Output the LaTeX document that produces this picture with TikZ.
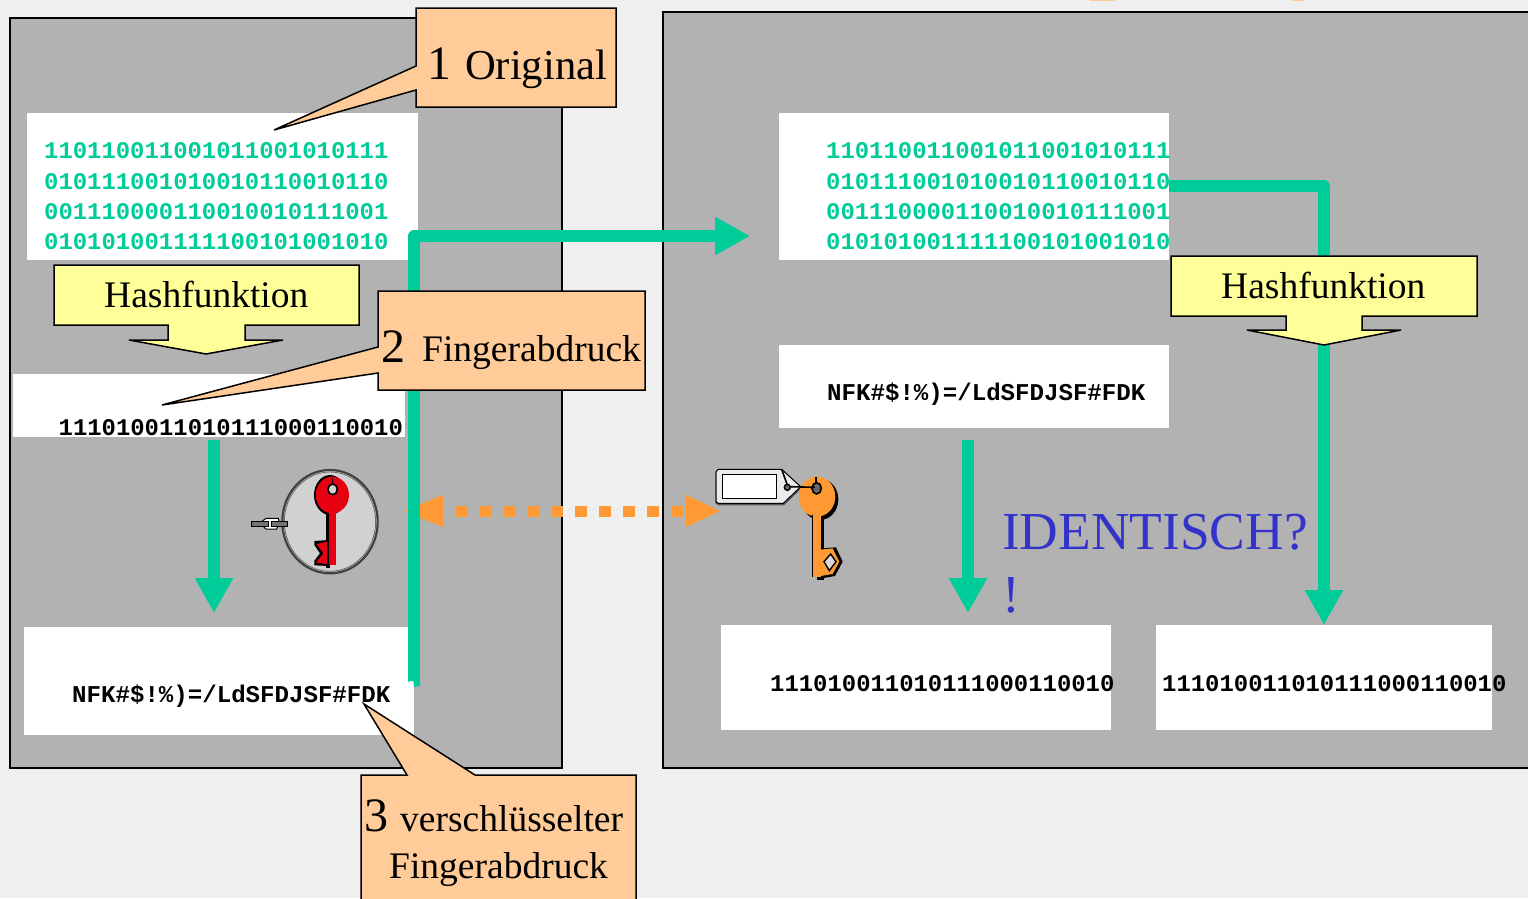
\documentclass[tikz,border=0pt]{standalone}
\usepackage{fontspec}
\setmainfont{Liberation Serif}
\newfontfamily\binfont{Liberation Mono}[BoldFont={Liberation Mono Bold}]
\usetikzlibrary{arrows.meta}
\definecolor{panelgray}{HTML}{B2B2B2}
\definecolor{pagegray}{HTML}{EFEFEF}
\definecolor{teal}{HTML}{00CC99}
\definecolor{callout}{HTML}{FFCC99}
\definecolor{hashy}{HTML}{FFFF99}
\definecolor{dashor}{HTML}{FF9933}
\definecolor{idblue}{HTML}{3333CC}
\definecolor{keyred}{HTML}{E60012}
\newcommand{\fsz}[1]{\fontsize{#1}{#1}\selectfont}
\tikzset{
  panel/.style={draw=black,line width=1.5pt,fill=panelgray},
  whitebox/.style={fill=white,draw=none},
  bintext/.style={anchor=base west,inner sep=0pt,font=\binfont\bfseries\fsz{23.9},text=teal},
  fptext/.style={anchor=base west,inner sep=0pt,font=\binfont\bfseries\fsz{23.9},text=black},
  nfktext/.style={anchor=base west,inner sep=0pt,font=\binfont\bfseries\fsz{24.1},text=black},
  shape callout/.style={draw=black,line width=1.5pt,fill=callout,line join=miter},
  shape hash/.style={draw=black,line width=1.5pt,fill=hashy,line join=miter},
  label text/.style={anchor=base west,inner sep=0pt,font=\fsz{37.5},text=black},
  big digit/.style={anchor=base west,inner sep=0pt,font=\fsz{48},text=black},
  flow/.style={draw=teal,line width=11.5pt,line join=round},
  flowtip/.style={flow,-{Triangle[length=35pt,width=36pt]}},
  dashflow/.style={draw=dashor,line width=11pt,dash pattern=on 12pt off 12pt},
  keyline/.style={draw=black,line width=1.6pt}
}
\begin{document}
\begin{tikzpicture}[x=1pt,y=-1pt]
\useasboundingbox (0,0) rectangle (1528,898);
\clip (0,0) rectangle (1528,898);
\fill[pagegray] (0,0) rectangle (1528,898);
\fill[callout] (1090,0) rectangle (1115,1.2);
\fill[callout] (1292,0) rectangle (1304,1.2);
% panels
\path[panel] (10,18) rectangle (562,768);
\path[panel] (663,12) rectangle (1535,768);
% white boxes
\path[whitebox] (27,113) rectangle (418,260);
\path[whitebox] (13,374) rectangle (405,437);
\path[whitebox] (24,627) rectangle (414,735);
\path[whitebox] (779,113) rectangle (1169,260);
\path[whitebox] (779,345) rectangle (1169,428);
\path[whitebox] (721,625) rectangle (1111,730);
\path[whitebox] (1156,625) rectangle (1492,730);
% binary text
\node[bintext] (l1) at (44,158) {110110011001011001010111};
\node[bintext] (l2) at (44,189) {010111001010010110010110};
\node[bintext] (l3) at (44,219) {001110000110010010111001};
\node[bintext] (l4) at (44,249) {010101001111100101001010};
\node[bintext] (r1) at (826,158) {110110011001011001010111};
\node[bintext] (r2) at (826,189) {010111001010010110010110};
\node[bintext] (r3) at (826,219) {001110000110010010111001};
\node[bintext] (r4) at (826,249) {010101001111100101001010};
\node[fptext] (f1) at (58.5,435) {111010011010111000110010};
\node[nfktext] (e1) at (72,702) {NFK\#\$!\%)=/LdSFDJSF\#FDK};
\node[nfktext] (e2) at (827,400) {NFK\#\$!\%)=/LdSFDJSF\#FDK};
\node[fptext] (f2) at (770,691) {111010011010111000110010};
\node[fptext] (f3) at (1162,691) {111010011010111000110010};
% named ends
\coordinate (a1s) at (414,681);
\coordinate (a1c) at (414,236);
\coordinate (a1e) at (750,236);
\coordinate (a2s) at (1169,186);
\coordinate (a2c) at (1324,186);
\coordinate (a2e) at (1324,625);
\coordinate (a3s) at (214,440);
\coordinate (a3e) at (214,613);
\coordinate (a4s) at (968,440);
\coordinate (a4e) at (968,613);
% connectors
\draw[flowtip] (a1s) -- (a1c) -- (a1e);
\fill[teal] (408.5,681) -- (420,681) -- (420,686) -- (414,687) -- (413,677) -- (408.5,683) -- cycle;
\draw[flowtip] (a2s) -- (a2c) -- (a2e);
\draw[flowtip] (a3s) -- (a3e);
\draw[flowtip] (a4s) -- (a4e);
% orange dashed double arrow
\fill[dashor] (404,511) -- (443,495) -- (443,527) -- cycle;
\fill[teal] (408.25,490) rectangle (419.75,535);
\draw[dashflow] (455,511) -- (683,511);
\fill[dashor] (720,511) -- (686,495) -- (686,527) -- cycle;
% hash function shapes
\path[shape hash] (54,265) -- (359,265) -- (359,325) -- (245,325) -- (245,340) -- (283,340) -- (206,354) -- (129,340) -- (168,340) -- (168,325) -- (54,325) -- cycle;
\node[label text] (h1) at (104,307) {Hashfunktion};
\path[shape hash] (1171,256) -- (1477,256) -- (1477,316) -- (1362,316) -- (1362,330) -- (1401,330) -- (1324,345) -- (1247,330) -- (1286,330) -- (1286,316) -- (1171,316) -- cycle;
\node[label text] (h2) at (1221,298) {Hashfunktion};
% callouts
\path[shape callout] (416,8) -- (616,8) -- (616,107) -- (416,107) -- (416,90) -- (274,130) -- (416,66) -- cycle;
\node[big digit] (c1d) at (427,79) {1};
\node[label text,font=\fsz{42.6}] (c1t) at (465,79) {Original};
\path[shape callout] (378,291) -- (645,291) -- (645,390) -- (378,390) -- (378,373) -- (162,405) -- (378,347) -- cycle;
\node[big digit] (c2d) at (381,362) {2};
\node[label text] (c2t) at (422,361) {Fingerabdruck};
\path[shape callout] (361,775) -- (407,775) -- (364,704) -- (475,775) -- (636,775) -- (636,905) -- (361,905) -- cycle;
\node[big digit] (c3d) at (364,831) {3};
\node[label text] (c3t) at (400,831) {verschlüsselter};
\node[label text] (c3u) at (389,878) {Fingerabdruck};
% identisch
\node[anchor=base west,inner sep=0pt,font=\fsz{53.4},text=idblue] (id1) at (1002,549) {IDENTISCH?};
\node[anchor=base west,inner sep=0pt,font=\fsz{53.4},text=idblue] (id2) at (1002,612) {!};
% red key in medallion
\begin{scope}[shift={(230,440)},x=0.3333pt,y=-0.3333pt]
  \draw[draw=black!75,line width=2.2pt,fill=black!18] (300,245) ellipse (143 and 155);
  \draw[draw=black!60,line width=.8pt] (300,245) ellipse (137 and 149);
  \fill[black!55,draw=black,line width=.8pt] (65,244) rectangle (172,258);
  \draw[black,fill=white,line width=1pt] (95,245) -- (108,235) -- (145,235) -- (148,250) -- (140,267) -- (108,267) -- (95,255) -- cycle;
  \fill[black!55,draw=black,line width=.8pt] (65,245) rectangle (115,258);
  \fill[black!55,draw=black,line width=.8pt] (125,245) rectangle (172,258);
  \fill[black] (300,165) ellipse (48 and 60);
  \fill[black] (288,215) rectangle (300,385);
  \fill[black] (253,303) -- (295,300) -- (295,378) -- (253,376) -- (253,362) -- (270,340) -- (253,315) -- cycle;
  \fill[keyred] (307,165) ellipse (50 and 55);
  \fill[keyred] (297,210) rectangle (318,375);
  \fill[keyred] (260,312) -- (292,305) -- (292,372) -- (258,368) -- (280,340) -- cycle;
  \fill[black!18,draw=black,line width=1.6pt] (308,148) ellipse (14 and 16);
  \draw[black,line width=1.6pt] (308,115) -- (308,132);
\end{scope}
% orange key with tag
\begin{scope}[shift={(700,450)},x=0.3333pt,y=-0.3333pt]
  \fill[black!65] (46,68) -- (46,160) -- (55,166) -- (252,166) -- (305,115) -- (250,60) -- cycle;
  \draw[draw=black,line width=1pt,fill=black!8] (48,65) -- (55,58) -- (245,58) -- (302,110) -- (250,160) -- (55,160) -- (48,155) -- cycle;
  \draw[keyline] (245,58) -- (262,105);
  \draw[line width=1pt,fill=white] (68,72) rectangle (228,146);
  \fill[black!60,draw=black,line width=1.4pt] (262,112) circle (9);
  \fill[black] (360,148) ellipse (55 and 62);
  \fill[black] (350,190) rectangle (372,390);
  \fill[black] (365,295) -- (408,292) -- (428,335) -- (405,378) -- (365,385) -- cycle;
  \fill[dashor] (351,140) ellipse (55 and 60);
  \fill[black] (335,195) rectangle (338,382);
  \fill[dashor] (338,190) rectangle (362,380);
  \fill[dashor] (362,299) -- (398,295) -- (418,335) -- (398,372) -- (362,378) -- cycle;
  \draw[line width=1.4pt,fill=black!15] (392,312) -- (408,335) -- (388,362) -- (372,335) -- cycle;
  \fill[black!60,draw=black,line width=1.6pt] (350,115) ellipse (14 and 17);
  \draw[keyline] (268,110) -- (345,112);
  \draw[black,line width=1.4pt] (348,80) -- (348,98);
\end{scope}
\end{tikzpicture}
\end{document}
